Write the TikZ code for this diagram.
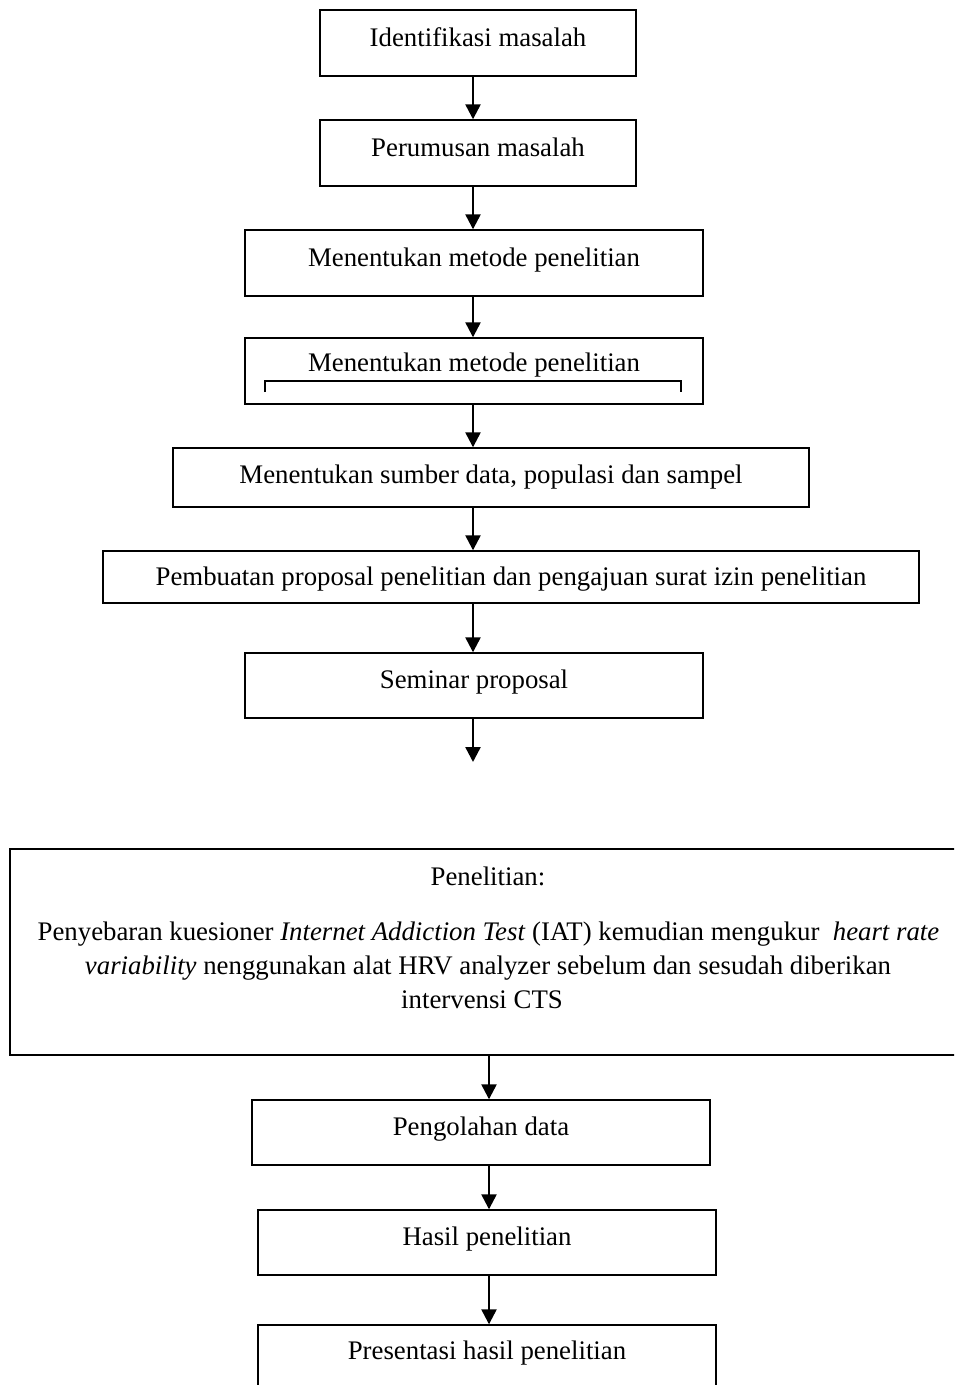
\documentclass[tikz,border=0pt]{standalone}
\usepackage{fontspec}
\setmainfont{Liberation Serif}
\usetikzlibrary{arrows.meta}
\tikzset{
  box/.style={draw, line width=0.7pt, inner sep=0pt, text height=9pt, font=\fontsize{13.4}{15}\selectfont},
  txt/.style={inner sep=0pt, text height=9pt, text depth=1pt, font=\fontsize{13.4}{15}\selectfont},
  arr/.style={line width=1.2pt, -{Triangle[width=7.5pt,length=7.5pt]}},
  thin/.style={line width=0.6pt}
}
\begin{document}
\begin{tikzpicture}[x=0.5pt,y=-0.5pt]
\useasboundingbox (0,0) rectangle (954,1385);
\clip (0,0) rectangle (954,1385);
\fill[white] (0,0) rectangle (954,1385);
\coordinate (c1) at (473,0);
\coordinate (c2) at (489,0);
\node[box, minimum width=158pt, minimum height=33pt, text depth=5pt] (b1) at (478,43) {Identifikasi masalah};
\node[box, minimum width=158pt, minimum height=33pt, text depth=5pt] (b2) at (478,153) {Perumusan masalah};
\node[box, minimum width=229pt, minimum height=33pt, text depth=5pt] (b3) at (474,263) {Menentukan metode penelitian};
\node[box, minimum width=229pt, minimum height=33pt, text depth=8.5pt] (b4) at (474,371) {Menentukan metode penelitian};
\draw[thin] (265,392) -- (265,381) -- (681,381) -- (681,392);
\node[box, minimum width=318pt, minimum height=29.5pt, text depth=3pt] (b5) at (491,477.5) {Menentukan sumber data, populasi dan sampel};
\node[box, minimum width=408pt, minimum height=26pt, text depth=1pt] (b6) at (511,577) {Pembuatan proposal penelitian dan pengajuan surat izin penelitian};
\node[box, minimum width=229pt, minimum height=32.5pt, text depth=6.5pt] (b7) at (474,685.5) {Seminar proposal};
\coordinate (e7) at (473,762);
\node[box, minimum width=495pt, minimum height=103pt] (pen) at (505,952) {};
\node[txt] (p0) at (488,877) {Penelitian:};
\node[txt] (p1) at (488.5,932) {Penyebaran kuesioner \textit{Internet Addiction Test} (IAT) kemudian mengukur \ \textit{heart rate}};
\node[txt] (p2) at (488,966) {\textit{variability} nenggunakan alat HRV analyzer sebelum dan sesudah diberikan};
\node[txt] (p3) at (482,1000) {intervensi CTS};
\node[box, minimum width=229pt, minimum height=32.5pt, text depth=6.5pt] (b8) at (481,1132.5) {Pengolahan data};
\node[box, minimum width=229pt, minimum height=32.5pt, text depth=6.5pt] (b9) at (487,1242.5) {Hasil penelitian};
\node[box, minimum width=229pt, minimum height=33pt, text depth=8pt] (b10) at (487,1358) {Presentasi hasil penelitian};
\draw[arr] (b1.south -| c1) -- (b2.north -| c1);
\draw[arr] (b2.south -| c1) -- (b3.north -| c1);
\draw[arr] (b3.south -| c1) -- (b4.north -| c1);
\draw[arr] (b4.south -| c1) -- (b5.north -| c1);
\draw[arr] (b5.south -| c1) -- (b6.north -| c1);
\draw[arr] (b6.south -| c1) -- (b7.north -| c1);
\draw[arr] (b7.south -| c1) -- (e7);
\draw[arr] (pen.south -| c2) -- (b8.north -| c2);
\draw[arr] (b8.south -| c2) -- (b9.north -| c2);
\draw[arr] (b9.south -| c2) -- (b10.north -| c2);
\end{tikzpicture}
\end{document}
